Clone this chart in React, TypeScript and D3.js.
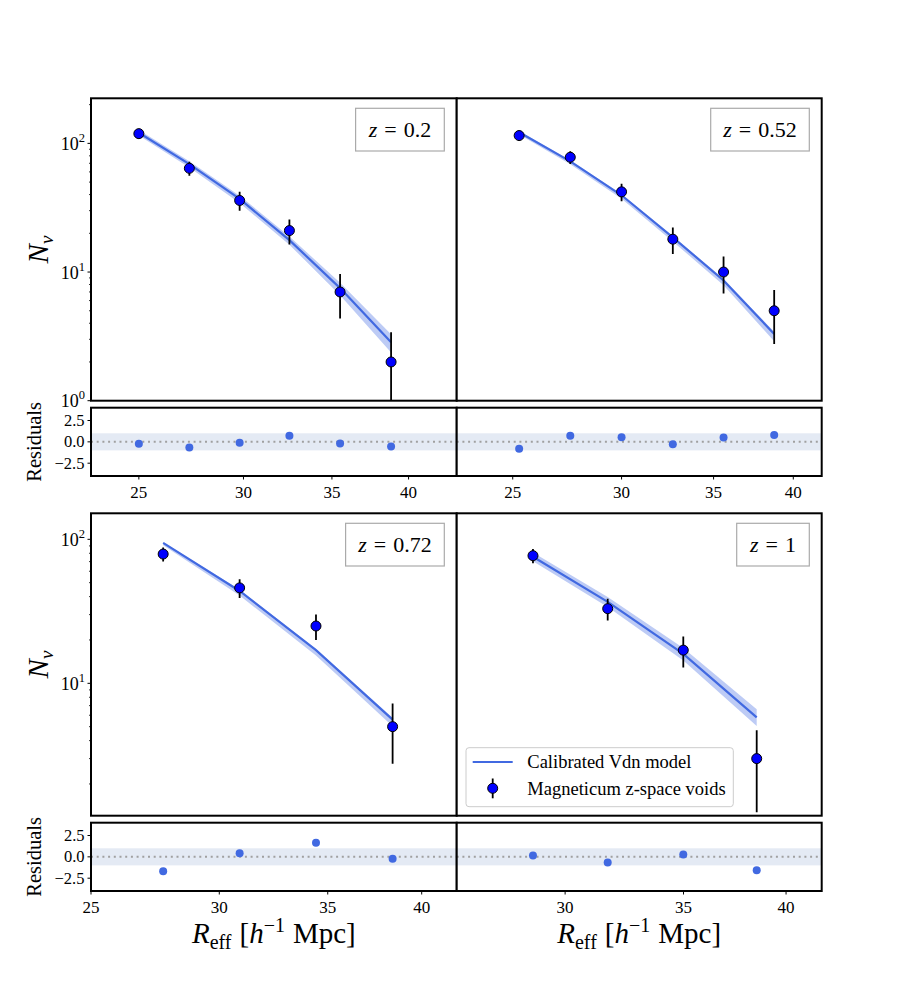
import React from 'react';
import * as d3 from 'd3';

// ---------- data ----------
const zLabels = ['0.2', '0.52', '0.72', '1'];

// z = 0.2
const r02 = [25.0, 27.3, 29.8, 32.5, 35.5, 38.8];
const n02 = [119, 64, 36, 21, 7, 2];
const e02 = [10.9, 8.0, 6.0, 4.6, 2.65, 1.41];
const m02 = [121, 69, 37, 17.7, 7.5, 2.85];
const m02lo = [115, 64.9, 34.4, 16.3, 6.6, 2.37];
const m02hi = [127, 72.5, 39.2, 18.9, 8.25, 3.28];
const res02 = [-0.23, -0.65, -0.11, 0.72, -0.19, -0.54];

// z = 0.52
const r052 = [25.27, 27.53, 30.0, 32.69, 35.59, 38.74];
const n052 = [115, 78, 42, 18, 10, 5];
const e052 = [10.7, 8.8, 6.5, 4.2, 3.2, 2.24];
const m052 = [122, 72.5, 39.5, 18.6, 8.6, 3.3];
const m052lo = [117, 68.9, 37.1, 17.3, 7.9, 2.9];
const m052hi = [124.5, 74, 40.3, 19, 8.85, 3.43];
const res052 = [-0.8, 0.72, 0.54, -0.27, 0.5, 0.8];

// z = 0.72
const r072 = [27.7, 30.88, 34.42, 38.38];
const n072 = [79, 46, 25, 5];
const e072 = [8.9, 6.8, 5.0, 2.24];
const m072 = [94.5, 43.8, 17, 5.6];
const m072lo = [91, 40.7, 15.6, 5.04];
const m072hi = [95.5, 44.7, 17.3, 5.77];
const res072 = [-1.7, 0.42, 1.65, -0.22];

// z = 1
const r1 = [28.77, 31.71, 34.99, 38.5];
const n1 = [77, 33, 17, 3];
const e1 = [8.8, 5.7, 4.1, 1.73];
const m1 = [75.7, 36.8, 16, 5.8];
const m1lo = [70.4, 33.9, 14.4, 5.05];
const m1hi = [81, 39.7, 17.6, 6.6];
const res1 = [0.16, -0.65, 0.28, -1.57];

const xTickVals = [25, 30, 35, 40];
const resTickVals = [2.5, 0, -2.5];
const resTickLabels = ['2.5', '0.0', '\u22122.5'];
const legendLabels = ['Calibrated Vdn model', 'Magneticum z-space voids'];

// ---------- layout ----------
const FONT = '"Liberation Serif", "DejaVu Serif", serif';
const BLUE = '#4169e1';

const series = [
  { r: r02, n: n02, e: e02, m: m02, lo: m02lo, hi: m02hi, res: res02 },
  { r: r052, n: n052, e: e052, m: m052, lo: m052lo, hi: m052hi, res: res052 },
  { r: r072, n: n072, e: e072, m: m072, lo: m072lo, hi: m072hi, res: res072 },
  { r: r1, n: n1, e: e1, m: m1, lo: m1lo, hi: m1hi, res: res1 },
];

const layouts = [
  { x0: 91, x1: 456.7, yTop: 98.3, yBot: 400.7, rTop: 407.7, rBot: 476, xd: [23.0, 43.5], yd: [1, 224], left: true, bottom: false, boxW: 88.7 },
  { x0: 456.7, x1: 821.7, yTop: 98.3, yBot: 400.7, rTop: 407.7, rBot: 476, xd: [22.76, 41.95], yd: [1, 224], left: false, bottom: false, boxW: 98.6 },
  { x0: 91, x1: 456.7, yTop: 513.3, yBot: 815.7, rTop: 822.7, rBot: 891, xd: [25.0, 42.04], yd: [1.204, 151.6], left: true, bottom: true, boxW: 98.7 },
  { x0: 456.7, x1: 821.7, yTop: 513.3, yBot: 815.7, rTop: 822.7, rBot: 891, xd: [26.05, 41.9], yd: [1.204, 151.6], left: false, bottom: true, boxW: 72.6 },
];

function Panel({ idx }: { idx: number }) {
  const L = layouts[idx];
  const S = series[idx];
  const x = d3.scaleLog().domain(L.xd).range([L.x0, L.x1]);
  const y = d3.scaleLog().domain(L.yd).range([L.yBot, L.yTop]);
  const ry = d3.scaleLinear().domain([-4, 4]).range([L.rBot, L.rTop]);
  const clipId = `clip-${idx}`;
  const rclipId = `rclip-${idx}`;

  const pts = S.r.map((r, i) => ({ r, n: S.n[i], e: S.e[i], m: S.m[i], lo: S.lo[i], hi: S.hi[i], res: S.res[i] }));
  const line = d3.line<any>().x(d => x(d.r)).y(d => y(d.m));
  const area = d3.area<any>().x(d => x(d.r)).y0(d => y(d.lo)).y1(d => y(d.hi));

  // log ticks
  const majors: number[] = [];
  const minors: number[] = [];
  for (let k = -1; k <= 3; k++) {
    const b = Math.pow(10, k);
    if (b >= L.yd[0] - 1e-9 && b <= L.yd[1]) majors.push(b);
    for (let m = 2; m <= 9; m++) {
      const v = m * b;
      if (v >= L.yd[0] && v <= L.yd[1]) minors.push(v);
    }
  }

  const cxPanel = (L.x0 + L.x1) / 2;
  const boxRight = L.x1 - 12.4;
  const boxTop = L.yTop + 10;
  const boxH = 42.7;

  return (
    <g>
      <defs>
        <clipPath id={clipId}>
          <rect x={L.x0} y={L.yTop} width={L.x1 - L.x0} height={L.yBot - L.yTop} />
        </clipPath>
        <clipPath id={rclipId}>
          <rect x={L.x0} y={L.rTop} width={L.x1 - L.x0} height={L.rBot - L.rTop} />
        </clipPath>
      </defs>

      {/* main panel */}
      <rect x={L.x0} y={L.yTop} width={L.x1 - L.x0} height={L.yBot - L.yTop} fill="white" />
      <g clipPath={`url(#${clipId})`}>
        <path d={area(pts) || ''} fill={BLUE} fillOpacity={0.35} stroke="none" />
        <path d={line(pts) || ''} fill="none" stroke={BLUE} strokeWidth={2.2} />
        {pts.map((d, i) => (
          <line key={'e' + i} x1={x(d.r)} x2={x(d.r)} y1={y(Math.max(d.n - d.e, 0.01))} y2={y(d.n + d.e)} stroke="black" strokeWidth={1.8} />
        ))}
        {pts.map((d, i) => (
          <circle key={'p' + i} cx={x(d.r)} cy={y(d.n)} r={5} fill="#0000ff" stroke="black" strokeWidth={1} />
        ))}
      </g>
      {L.left && majors.map((v, i) => (
        <g key={'ym' + i}>
          <line x1={L.x0} x2={L.x0 - 3.5} y1={y(v)} y2={y(v)} stroke="black" strokeWidth={1} />
          <text x={L.x0 - 6} y={y(v) + 6.5} textAnchor="end" fontFamily={FONT} fontSize={18}>
            10<tspan dy={-8} fontSize={12.5}>{Math.round(Math.log10(v))}</tspan>
          </text>
        </g>
      ))}
      {L.left && minors.map((v, i) => (
        <line key={'yn' + i} x1={L.x0} x2={L.x0 - 2} y1={y(v)} y2={y(v)} stroke="black" strokeWidth={0.8} />
      ))}
      <rect x={L.x0} y={L.yTop} width={L.x1 - L.x0} height={L.yBot - L.yTop} fill="none" stroke="black" strokeWidth={2} />

      {/* z label box */}
      <rect x={boxRight - L.boxW} y={boxTop} width={L.boxW} height={boxH} fill="white" stroke="#aaaaaa" strokeWidth={1.2} />
      <text x={boxRight - L.boxW / 2} y={boxTop + boxH / 2 + 7} textAnchor="middle" fontFamily={FONT} fontSize={22}>
        <tspan fontStyle="italic">z</tspan>
        <tspan dx={7}>=</tspan>
        <tspan dx={7}>{zLabels[idx]}</tspan>
      </text>

      {L.left && (
        <text transform={`translate(${47.5},${(L.yTop + L.yBot) / 2}) rotate(-90)`} textAnchor="middle" fontFamily={FONT} fontSize={29}>
          <tspan fontStyle="italic">N</tspan>
          <tspan fontStyle="italic" fontSize={19} dy={5}>v</tspan>
        </text>
      )}

      {/* residual panel */}
      <rect x={L.x0} y={L.rTop} width={L.x1 - L.x0} height={L.rBot - L.rTop} fill="white" />
      <g clipPath={`url(#${rclipId})`}>
        <rect x={L.x0} y={ry(1)} width={L.x1 - L.x0} height={ry(-1) - ry(1)} fill="#e4eaf4" />
        <line x1={L.x0} x2={L.x1} y1={ry(0)} y2={ry(0)} stroke="#a0a0a0" strokeWidth={2} strokeDasharray="2 3.7" />
        {pts.map((d, i) => (
          <circle key={'r' + i} cx={x(d.r)} cy={ry(d.res)} r={4} fill={BLUE} />
        ))}
      </g>
      {L.left && resTickVals.map((v, i) => (
        <g key={'rt' + i}>
          <line x1={L.x0} x2={L.x0 - 3.5} y1={ry(v)} y2={ry(v)} stroke="black" strokeWidth={1} />
          <text x={L.x0 - 6.5} y={ry(v) + 5.5} textAnchor="end" fontFamily={FONT} fontSize={16.5}>{resTickLabels[i]}</text>
        </g>
      ))}
      {L.left && (
        <text transform={`translate(${40.5},${(L.rTop + L.rBot) / 2}) rotate(-90)`} textAnchor="middle" fontFamily={FONT} fontSize={20.5}>Residuals</text>
      )}
      {xTickVals.filter(v => v >= L.xd[0] && v <= L.xd[1]).map((v, i) => (
        <g key={'xt' + i}>
          <line x1={x(v)} x2={x(v)} y1={L.rBot} y2={L.rBot + 3.5} stroke="black" strokeWidth={1} />
          <text x={x(v)} y={L.rBot + 21.5} textAnchor="middle" fontFamily={FONT} fontSize={17}>{v}</text>
        </g>
      ))}
      <rect x={L.x0} y={L.rTop} width={L.x1 - L.x0} height={L.rBot - L.rTop} fill="none" stroke="black" strokeWidth={2} />

      {L.bottom && (
        <text x={cxPanel} y={943} textAnchor="middle" fontFamily={FONT} fontSize={29}>
          <tspan fontStyle="italic">R</tspan>
          <tspan fontSize={20} dy={6}>eff</tspan>
          <tspan dy={-6} dx={8}>[</tspan>
          <tspan fontStyle="italic">h</tspan>
          <tspan fontSize={20} dy={-11}>{'\u2212'}1</tspan>
          <tspan dy={11} dx={8}>Mpc]</tspan>
        </text>
      )}
    </g>
  );
}

function Legend() {
  const bx = 466, by = 747.7, bw = 267.3, bh = 59;
  return (
    <g>
      <rect x={bx} y={by} width={bw} height={bh} rx={3} fill="white" fillOpacity={0.85} stroke="#cccccc" strokeWidth={1} />
      <line x1={472.7} x2={512.7} y1={762} y2={762} stroke={BLUE} strokeWidth={2.2} />
      <text x={527.3} y={768} fontFamily={FONT} fontSize={18.5}>{legendLabels[0]}</text>
      <line x1={492.7} x2={492.7} y1={778.5} y2={798.3} stroke="black" strokeWidth={1.8} />
      <circle cx={492.7} cy={788.3} r={5} fill="#0000ff" stroke="black" strokeWidth={1} />
      <text x={527.3} y={794.5} fontFamily={FONT} fontSize={18.5}>{legendLabels[1]}</text>
    </g>
  );
}

export default function App() {
  return (
    <svg width={913} height={990} style={{ position: 'absolute', left: 0, top: 0, background: 'white' }}>
      <rect x={0} y={0} width={913} height={990} fill="white" />
      {[0, 1, 2, 3].map(i => <Panel key={i} idx={i} />)}
      <Legend />
    </svg>
  );
}
